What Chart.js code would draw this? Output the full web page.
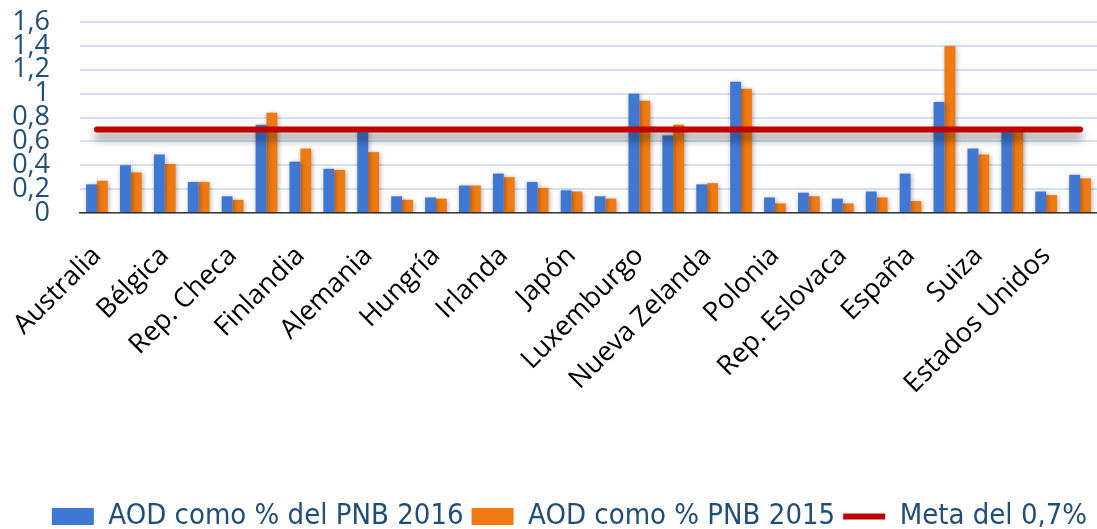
<!DOCTYPE html>
<html>
<head>
<meta charset="utf-8">
<script src="https://cdn.jsdelivr.net/npm/chart.js@4.4.1/dist/chart.umd.min.js"></script>
<style>
  html, body { margin: 0; padding: 0; background: #fff; }
  canvas { display: block; }
</style>
</head>
<body>
<canvas id="mycanvas" width="1097" height="529"></canvas>
<script>
var paises = ['Australia', 'Austria', 'Bélgica', 'Canadá', 'Rep. Checa', 'Dinamarca', 'Finlandia', 'Francia',
  'Alemania', 'Grecia', 'Hungría', 'Islandia', 'Irlanda', 'Italia', 'Japón', 'Corea', 'Luxemburgo',
  'Países Bajos', 'Nueva Zelanda', 'Noruega', 'Polonia', 'Portugal', 'Rep. Eslovaca', 'Eslovenia',
  'España', 'Suecia', 'Suiza', 'Reino Unido', 'Estados Unidos', 'Total CAD'];

var aod2016 = [0.24, 0.40, 0.49, 0.26, 0.14, 0.74, 0.43, 0.37, 0.70, 0.14, 0.13, 0.23, 0.33, 0.26, 0.19,
  0.14, 1.00, 0.65, 0.24, 1.10, 0.13, 0.17, 0.12, 0.18, 0.33, 0.93, 0.54, 0.70, 0.18, 0.32];

var aod2015 = [0.27, 0.34, 0.41, 0.26, 0.11, 0.84, 0.54, 0.36, 0.51, 0.11, 0.12, 0.23, 0.30, 0.21, 0.18,
  0.12, 0.94, 0.74, 0.25, 1.04, 0.08, 0.14, 0.08, 0.13, 0.10, 1.40, 0.49, 0.70, 0.15, 0.29];

var meta = [0.7, 0.7, 0.7, 0.7, 0.7, 0.7, 0.7, 0.7, 0.7, 0.7, 0.7, 0.7, 0.7, 0.7, 0.7,
  0.7, 0.7, 0.7, 0.7, 0.7, 0.7, 0.7, 0.7, 0.7, 0.7, 0.7, 0.7, 0.7, 0.7, 0.7];

var yTicks = [0, 0.2, 0.4, 0.6, 0.8, 1, 1.2, 1.4, 1.6];

var azulTexto = '#1F4E79';

// sombras suaves bajo barras y linea
var sombras = {
  id: 'sombras',
  beforeDatasetDraw: function(chart, args) {
    var ctx = chart.ctx;
    ctx.save();
    if (args.meta.type === 'line') {
      ctx.shadowColor = 'rgba(0,0,0,0.45)';
      ctx.shadowBlur = 9;
      ctx.shadowOffsetY = 7;
    } else {
      ctx.shadowColor = 'rgba(0,0,0,0.35)';
      ctx.shadowBlur = 5;
      ctx.shadowOffsetX = 1;
      ctx.shadowOffsetY = 1;
    }
  },
  afterDatasetDraw: function(chart) {
    chart.ctx.restore();
  }
};

// mover un poco la leyenda a la derecha, como en el original
var moverLeyenda = {
  id: 'moverLeyenda',
  afterLayout: function(chart) {
    if (chart.legend) {
      chart.legend.left += 15;
      chart.legend.right += 15;
    }
  }
};

// sin relleno automatico de las escalas
function sinRelleno(scale) {
  scale.paddingLeft = 0;
  scale.paddingRight = 0;
  scale.paddingTop = 0;
  scale.paddingBottom = 0;
  scale.getPadding = function() { return { left: 0, top: 0, right: 0, bottom: 0 }; };
}

var ctx = document.getElementById('mycanvas');

var chartdata = {
  labels: paises,
  datasets: [
    {
      type: 'bar',
      label: 'AOD como % del PNB 2016',
      data: aod2016,
      backgroundColor: '#3F77D2',
      borderWidth: 0,
      pointStyle: 'rect',
      order: 1,
      categoryPercentage: 0.64,
      barPercentage: 1.0
    },
    {
      type: 'bar',
      label: 'AOD como % PNB 2015',
      data: aod2015,
      backgroundColor: '#F07A12',
      borderWidth: 0,
      pointStyle: 'rect',
      order: 1,
      categoryPercentage: 0.64,
      barPercentage: 1.0
    },
    {
      type: 'line',
      label: 'Meta del 0,7%',
      data: meta,
      borderColor: '#C00000',
      backgroundColor: '#C00000',
      borderWidth: 6,
      borderCapStyle: 'round',
      pointRadius: 0,
      pointStyle: 'line',
      order: 0
    }
  ]
};

var barGraph = new Chart(ctx, {
  type: 'bar',
  data: chartdata,
  plugins: [sombras, moverLeyenda],
  options: {
    responsive: false,
    animation: false,
    layout: { autoPadding: false, padding: { left: 12, right: 0, top: 22, bottom: -12 } },
    plugins: {
      tooltip: { enabled: false },
      legend: {
        position: 'bottom',
        labels: {
          usePointStyle: true,
          pointStyleWidth: 42,
          boxHeight: 17,
          padding: 8,
          color: azulTexto,
          font: { family: "'DejaVu Sans Condensed', 'Liberation Sans Narrow', 'Open Sans', sans-serif", size: 29 },
          sort: function(a, b) { return a.datasetIndex - b.datasetIndex; }
        }
      }
    },
    scales: {
      x: {
        grid: { display: false, drawTicks: false },
        border: { display: true, color: '#3a3a3a', width: 1.5 },
        ticks: {
          autoSkip: false,
          maxRotation: 45,
          minRotation: 45,
          padding: 27,
          color: '#000',
          font: { family: "'Open Sans', sans-serif", size: 27 },
          callback: function(val, i) {
            return i % 2 === 0 ? this.getLabelForValue(val) : '';
          }
        },
        afterFit: function(scale) {
          scale.height = 281;
          sinRelleno(scale);
        }
      },
      y: {
        min: 0,
        max: 1.6,
        afterBuildTicks: function(scale) {
          scale.ticks = yTicks.map(function(v) { return { value: v }; });
        },
        afterFit: function(scale) {
          scale.width = 68;
          sinRelleno(scale);
        },
        grid: { color: '#D6E2F4', lineWidth: 2, drawTicks: false },
        border: { display: false },
        ticks: {
          autoSkip: false,
          padding: 30,
          color: azulTexto,
          font: { family: "'Open Sans', sans-serif", size: 27, lineHeight: 1 },
          callback: function(v) { return String(v).replace('.', ','); }
        }
      }
    }
  }
});
</script>
</body>
</html>
